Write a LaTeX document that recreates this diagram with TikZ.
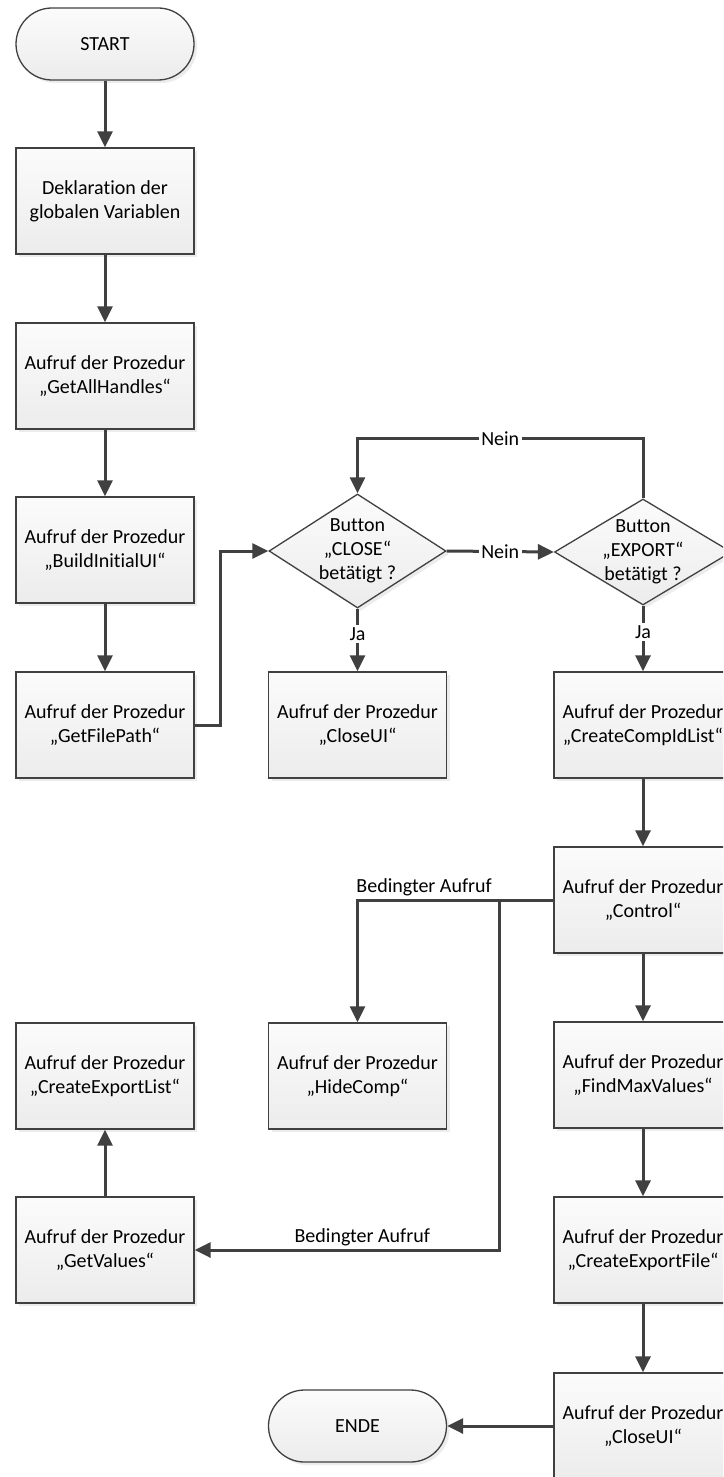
\documentclass[tikz,border=0pt]{standalone}
\usepackage{fontspec}
\setmainfont{Carlito}[Ligatures=NoCommon]
\usetikzlibrary{shapes.geometric,shadows,arrows.meta,calc}
\definecolor{ink}{HTML}{404040}
\begin{document}
\begin{tikzpicture}[x=1pt,y=-1pt,
  font=\fontsize{20}{24}\selectfont,
  boxbase/.style={draw=ink, line width=1.3pt, inner sep=0pt, align=center,
    top color=gray!3, bottom color=gray!15, text=black,
    drop shadow={shadow xshift=3pt, shadow yshift=-3pt, fill=black!14}},
  proc/.style={boxbase, rectangle, minimum width=178pt, minimum height=106pt},
  term/.style={boxbase, rectangle, rounded corners=36pt, minimum width=178pt, minimum height=72pt},
  decision/.style={boxbase, diamond, minimum width=177pt, minimum height=#1},
  dectext/.style={align=center, inner sep=0pt, text=black},
  arr/.style={draw=ink, line width=3pt, -{Triangle[length=16pt,width=15pt]}},
  lbl/.style={fill=white, inner sep=2.5pt, text=black},
  toplbl/.style={above, inner sep=3pt, text=black}]

\useasboundingbox (0,0) rectangle (723,1477);
\fill[white] (0,0) rectangle (723,1477);
\clip (0,0) rectangle (723,1477);

% left column
\node[term] (start) at (105,44) {START};
\node[proc] (dekl) at (105,201) {Deklaration der\\globalen Variablen};
\node[proc] (gah) at (105,376) {Aufruf der Prozedur\\„GetAllHandles“};
\node[proc] (biu) at (105,550) {Aufruf der Prozedur\\„BuildInitialUI“};
\node[proc] (gfp) at (105,725) {Aufruf der Prozedur\\„GetFilePath“};
\node[proc] (cel) at (105,1076) {Aufruf der Prozedur\\„CreateExportList“};
\node[proc] (getv) at (105,1250) {Aufruf der Prozedur\\„GetValues“};

% decisions
\node[decision=114pt] (close) at (357.5,551) {};
\node[dectext] (closetxt) at (close.center) {Button\\„CLOSE“\\betätigt ?};
\node[decision=106pt] (export) at (643,552) {};
\node[dectext] (exporttxt) at (export.center) {Button\\„EXPORT“\\betätigt ?};

% middle column
\node[proc] (closeui) at (357.5,725) {Aufruf der Prozedur\\„CloseUI“};
\node[proc] (hide) at (357.5,1076) {Aufruf der Prozedur\\„HideComp“};
\node[term] (ende) at (357.5,1426) {ENDE};

% right column
\node[proc] (ccl) at (643,725) {Aufruf der Prozedur\\„CreateCompIdList“};
\node[proc] (ctrl) at (643,900) {Aufruf der Prozedur\\„Control“};
\node[proc] (fmv) at (643,1075) {Aufruf der Prozedur\\„FindMaxValues“};
\node[proc] (cef) at (643,1250) {Aufruf der Prozedur\\„CreateExportFile“};
\node[proc] (cui2) at (643,1426) {Aufruf der Prozedur\\„CloseUI“};

% main sequence
\draw[arr] (start) -- (dekl);
\draw[arr] (dekl) -- (gah);
\draw[arr] (gah) -- (biu);
\draw[arr] (biu) -- (gfp);
\draw[arr] (gfp.east) -- ++(26,0) |- (close.west);

% decisions
\draw[arr] (close.east) -- node[lbl] {Nein} (export.west);
\draw[arr] (export.north) -- ++(0,-60) -| node[lbl, pos=0.25] {Nein} (close.north);
\draw[arr] (close.south) -- node[lbl, pos=0.4] {Ja} (closeui.north);
\draw[arr] (export.south) -- node[lbl, pos=0.4] {Ja} (ccl.north);

% export branch
\draw[arr] (ccl) -- (ctrl);
\draw[arr] (ctrl) -- (fmv);
\draw[arr] (fmv) -- (cef);
\draw[arr] (cef) -- (cui2);
\draw[arr] (cui2.west) -- (ende.east);

% conditional calls from Control
\draw[arr] (ctrl.west) -| node[toplbl, pos=0.33] {Bedingter Aufruf} (hide.north);
\coordinate (split) at ($(ctrl.west)+(-54,0)$);
\draw[arr] (split) |- node[toplbl, pos=0.725] {Bedingter Aufruf} (getv.east);
\draw[arr] (getv) -- (cel);

\end{tikzpicture}
\end{document}
